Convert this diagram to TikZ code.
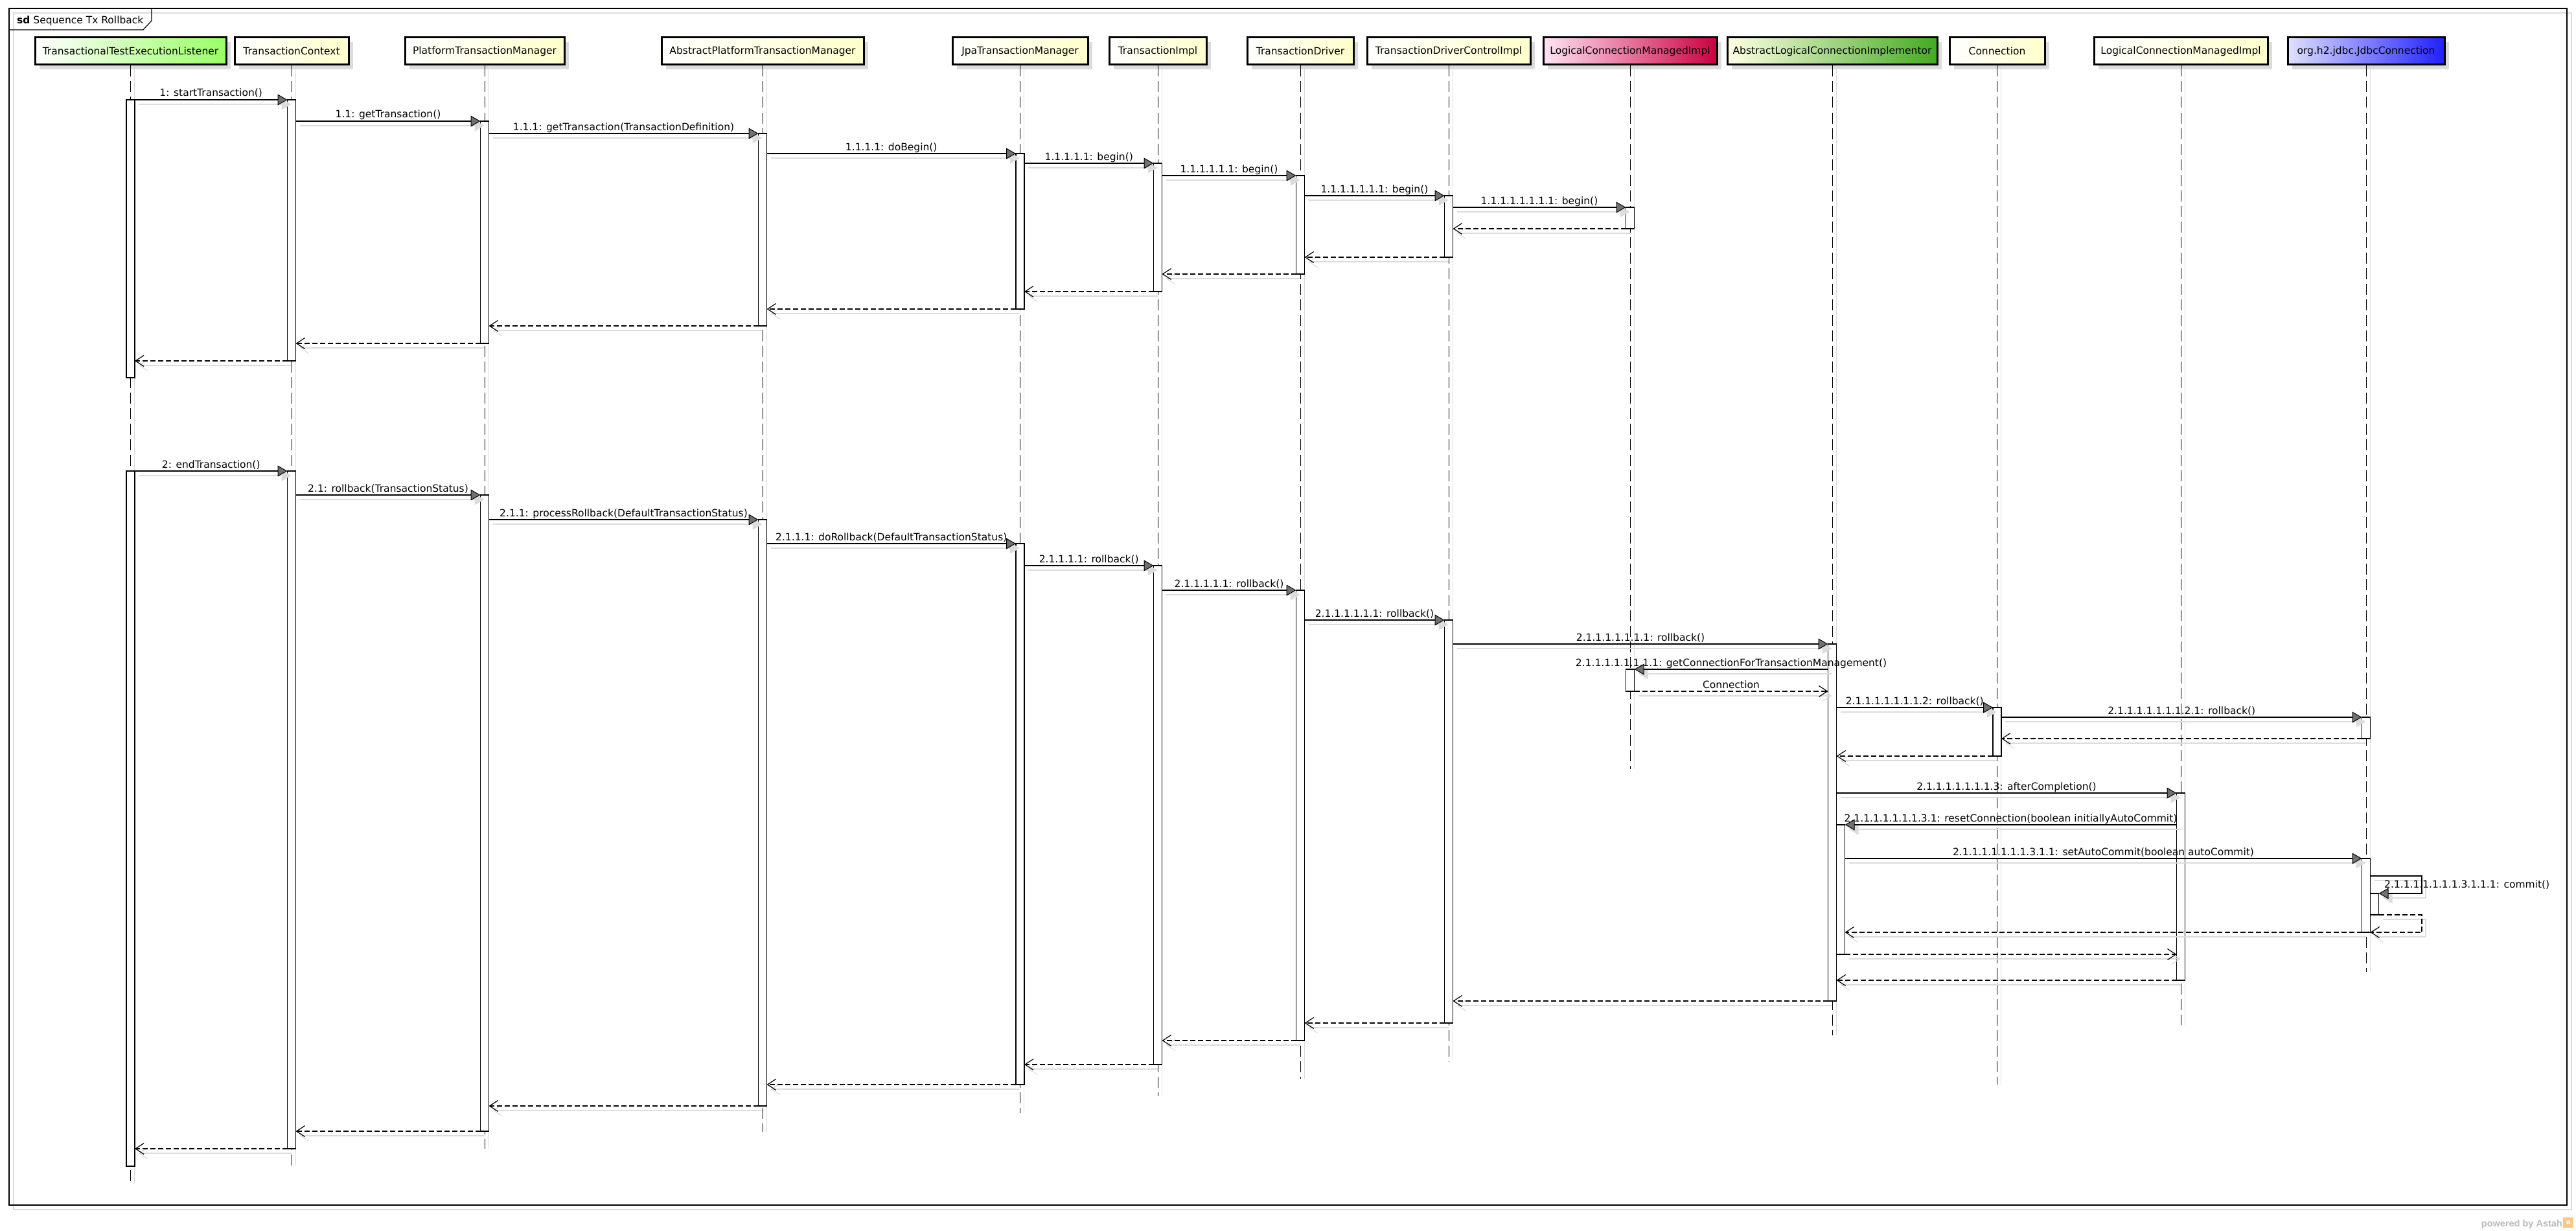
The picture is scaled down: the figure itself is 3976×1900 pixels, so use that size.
\documentclass[tikz,border=0pt]{standalone}
\usepackage{fontspec}
\setmainfont{DejaVu Sans}
\newfontfamily\lsans{Liberation Sans}
\usetikzlibrary{arrows.meta}
\definecolor{shd}{HTML}{DCDCDC}
\definecolor{cGreen}{HTML}{99FF66}
\definecolor{cYel}{HTML}{FFFFCC}
\definecolor{cPinkL}{HTML}{FFE4F4}
\definecolor{cPink}{HTML}{CC0040}
\definecolor{cAlciL}{HTML}{FFFFE4}
\definecolor{cAlci}{HTML}{44AA22}
\definecolor{cBlueL}{HTML}{E0E0FF}
\definecolor{cBlue}{HTML}{2020FF}
\definecolor{headgray}{HTML}{707070}
\tikzset{
  hbox/.style={draw, line width=3pt, minimum height=42pt, inner sep=1pt, outer sep=0pt},
  actbox/.style={draw, fill=white, line width=1.2pt, minimum width=13pt, inner sep=0pt, outer sep=0pt},
  lifeline/.style={line width=1pt, dash pattern=on 17pt off 7pt},
  lifeshadow/.style={draw=shd, line width=1pt},
  call/.style={line width=1.6pt, -{Triangle[length=15pt,width=17pt,fill=headgray,line width=1pt]}},
  callshadow/.style={draw=shd, line width=1.6pt, -{Triangle[length=15pt,width=17pt,fill=shd,line width=1pt]}},
  ret/.style={line width=1.6pt, dash pattern=on 8pt off 4pt, -{Straight Barb[length=13pt,width=17pt,line width=1.2pt]}},
  retshadow/.style={draw=shd, line width=1.6pt, -{Straight Barb[length=13pt,width=17pt,line width=1.2pt]}},
  lbl/.style={anchor=base, yshift=5pt, inner sep=0pt}
}
\newcommand\hdr[6]{%
  \fill[shd] (#2-#3/2+7,65) rectangle (#2+#3/2+7,107);
  \node[hbox, left color=#4, right color=#5, minimum width=#3] (#1) at (#2,79) {#6};
}
\newcommand\lifel[3]{%
  \coordinate (#1top) at (#2,101.5);
  \coordinate (#1bot) at (#2,#3);
  \draw[lifeshadow] ([xshift=6pt]#1top) -- ([xshift=6pt]#1bot);
  \draw[lifeline] (#1top) -- (#1bot);
}
\newcommand\actbar[4]{%
  \node[actbox, minimum height=#4-#3, anchor=north] (#1) at (#2,#3) {};
}
\newcommand\callm[5]{%
  \coordinate (#1s) at (#3,#2);
  \coordinate (#1e) at (#4,#2);
  \draw[callshadow] ([shift={(6,7)}]#1s) -- ([shift={(6,7)}]#1e);
  \draw[call] (#1s) -- node[lbl] (#1l) {#5} (#1e);
}
\newcommand\retm[4]{%
  \coordinate (#1s) at (#3,#2);
  \coordinate (#1e) at (#4,#2);
  \draw[retshadow] ([shift={(6,7)}]#1s) -- ([shift={(6,7)}]#1e);
  \draw[ret] (#1s) -- (#1e);
}
\begin{document}
\begin{tikzpicture}[x=1pt,y=-1pt,font=\fontsize{15.5}{18}\selectfont]
\useasboundingbox (0,0) rectangle (3976,1900);
% frame
\draw[shd, line width=1.5pt] (21,20) rectangle (3969,1867);
\node[draw, line width=1.5pt, minimum width=3948pt, minimum height=1847pt, anchor=north west, inner sep=0pt, outer sep=0pt] (frame) at (14,13) {};
\draw[line width=1.2pt] (14,46) -- (221,46) -- (234,32) -- (234,13);
\node[anchor=base west, inner sep=0pt] (title) at (26,37) {\textbf{sd} Sequence Tx Rollback};
% headers
\hdr{h1}{201.5}{295}{white}{cGreen}{TransactionalTestExecutionListener}
\hdr{h2}{450}{176}{white}{cYel}{TransactionContext}
\hdr{h3}{748}{246}{white}{cYel}{PlatformTransactionManager}
\hdr{h4}{1177}{312}{white}{cYel}{AbstractPlatformTransactionManager}
\hdr{h5}{1574.5}{209}{white}{cYel}{JpaTransactionManager}
\hdr{h6}{1787}{150}{white}{cYel}{TransactionImpl}
\hdr{h7}{2007}{164}{white}{cYel}{TransactionDriver}
\hdr{h8}{2236}{252}{white}{cYel}{TransactionDriverControlImpl}
\hdr{h9}{2516}{268}{cPinkL}{cPink}{LogicalConnectionManagedImpl}
\hdr{h10}{2828}{324}{cAlciL}{cAlci}{AbstractLogicalConnectionImplementor}
\hdr{h11}{3082.5}{147}{white}{cYel}{Connection}
\hdr{h12}{3366}{268}{white}{cYel}{LogicalConnectionManagedImpl}
\hdr{h13}{3652}{242}{cBlueL}{cBlue}{org.h2.jdbc.JdbcConnection}
% lifelines
\lifel{l1}{201.5}{1827}
\lifel{l2}{450}{1800}
\lifel{l3}{748}{1773}
\lifel{l4}{1177}{1747}
\lifel{l5}{1574.5}{1718}
\lifel{l6}{1787}{1692}
\lifel{l7}{2007}{1665}
\lifel{l8}{2236}{1638}
\lifel{l9}{2516}{1187}
\lifel{l10}{2828}{1598}
\lifel{l11}{3082.5}{1674}
\lifel{l12}{3366}{1582}
\lifel{l13}{3652}{1500}
% activation bars, part 1
\actbar{a1}{201.5}{154}{583}
\actbar{a2}{450}{154}{557}
\actbar{a3}{748}{187}{530}
\actbar{a4}{1177}{206}{503}
\actbar{a5}{1574.5}{237}{477}
\actbar{a6}{1787}{252}{450}
\actbar{a7}{2007}{271}{423}
\actbar{a8}{2236}{302}{397}
\actbar{a9}{2516}{320}{353}
% activation bars, part 2
\actbar{b1}{201.5}{727}{1800}
\actbar{b2}{450}{727}{1773}
\actbar{b3}{748}{764}{1746}
\actbar{b4}{1177}{802}{1707}
\actbar{b5}{1574.5}{839}{1674}
\actbar{b6}{1787}{873}{1643}
\actbar{b7}{2007}{911}{1606}
\actbar{b8}{2236}{957}{1579}
\actbar{b10}{2828}{994}{1545}
\actbar{b9}{2516}{1033}{1067}
\actbar{b11}{3082.5}{1092}{1167}
\actbar{b13}{3652}{1107}{1140}
\actbar{b12}{3366}{1224}{1513}
\actbar{b10n}{2841}{1273}{1473}
\actbar{b13b}{3652}{1325}{1439}
\actbar{b13n}{3665}{1379}{1412}
% part 1 messages
\callm{m1}{154}{208}{443.5}{1: startTransaction()}
\callm{m2}{187}{456.5}{741.5}{1.1: getTransaction()}
\callm{m3}{206}{754.5}{1170.5}{1.1.1: getTransaction(TransactionDefinition)}
\callm{m4}{237}{1183.5}{1568}{1.1.1.1: doBegin()}
\callm{m5}{252}{1581}{1780.5}{1.1.1.1.1: begin()}
\callm{m6}{271}{1793.5}{2000.5}{1.1.1.1.1.1: begin()}
\callm{m7}{302}{2013.5}{2229.5}{1.1.1.1.1.1.1: begin()}
\callm{m8}{320}{2242.5}{2509.5}{1.1.1.1.1.1.1.1: begin()}
\retm{r8}{353}{2509.5}{2242.5}
\retm{r7}{397}{2229.5}{2013.5}
\retm{r6}{423}{2000.5}{1793.5}
\retm{r5}{450}{1780.5}{1581}
\retm{r4}{477}{1568}{1183.5}
\retm{r3}{503}{1170.5}{754.5}
\retm{r2}{530}{741.5}{456.5}
\retm{r1}{557}{443.5}{208}
% part 2 messages
\callm{n1}{727}{208}{443.5}{2: endTransaction()}
\callm{n2}{764}{456.5}{741.5}{2.1: rollback(TransactionStatus)}
\callm{n3}{802}{754.5}{1170.5}{2.1.1: processRollback(DefaultTransactionStatus)}
\callm{n4}{839}{1183.5}{1568}{2.1.1.1: doRollback(DefaultTransactionStatus)}
\callm{n5}{873}{1581}{1780.5}{2.1.1.1.1: rollback()}
\callm{n6}{911}{1793.5}{2000.5}{2.1.1.1.1.1: rollback()}
\callm{n7}{957}{2013.5}{2229.5}{2.1.1.1.1.1.1: rollback()}
\callm{n8}{994}{2242.5}{2821.5}{2.1.1.1.1.1.1.1: rollback()}
\callm{n9}{1033}{2821.5}{2522.5}{2.1.1.1.1.1.1.1.1: getConnectionForTransactionManagement()}
\retm{q9}{1067}{2522.5}{2821.5}
\node[lbl] (q9l) at (2672,1067) {Connection};
\callm{n10}{1092}{2834.5}{3076}{2.1.1.1.1.1.1.1.2: rollback()}
\callm{n11}{1107}{3089}{3645.5}{2.1.1.1.1.1.1.1.2.1: rollback()}
\retm{q11}{1140}{3645.5}{3089}
\retm{q10}{1167}{3076}{2834.5}
\callm{n12}{1224}{2834.5}{3359.5}{2.1.1.1.1.1.1.1.3: afterCompletion()}
\callm{n13}{1273}{3359.5}{2847.5}{2.1.1.1.1.1.1.1.3.1: resetConnection(boolean initiallyAutoCommit)}
\callm{n14}{1325}{2847.5}{3645.5}{2.1.1.1.1.1.1.1.3.1.1: setAutoCommit(boolean autoCommit)}
% self call commit
\coordinate (s1a) at (3658.5,1352);
\coordinate (s1b) at (3738,1352);
\coordinate (s1c) at (3738,1379);
\coordinate (s1d) at (3671.5,1379);
\draw[callshadow] ([shift={(6,7)}]s1a) -- ([shift={(6,7)}]s1b) -- ([shift={(6,7)}]s1c) -- ([shift={(6,7)}]s1d);
\draw[call] (s1a) -- (s1b) -- (s1c) -- (s1d);
\node[anchor=west, inner sep=0pt] (s1l) at (3680,1366) {2.1.1.1.1.1.1.1.3.1.1.1: commit()};
\coordinate (s2a) at (3671.5,1412);
\coordinate (s2b) at (3738,1412);
\coordinate (s2c) at (3738,1439);
\coordinate (s2d) at (3658.5,1439);
\draw[retshadow] ([shift={(6,7)}]s2a) -- ([shift={(6,7)}]s2b) -- ([shift={(6,7)}]s2c) -- ([shift={(6,7)}]s2d);
\draw[ret] (s2a) -- (s2b) -- (s2c) -- (s2d);
\retm{q14}{1439}{3645.5}{2847.5}
\retm{q13}{1473}{2847.5}{3359.5}
\retm{q12}{1513}{3359.5}{2834.5}
\retm{q8}{1545}{2821.5}{2242.5}
\retm{q7}{1579}{2229.5}{2013.5}
\retm{q6}{1606}{2000.5}{1793.5}
\retm{q5}{1643}{1780.5}{1581}
\retm{q4}{1674}{1568}{1183.5}
\retm{q3}{1707}{1170.5}{754.5}
\retm{q2}{1746}{741.5}{456.5}
\retm{q1}{1773}{443.5}{208}
% powered by
\node[anchor=base east, inner sep=0pt, text=black!27, font=\lsans\bfseries\fontsize{14.5}{16}\selectfont] (pow) at (3955,1893) {powered by Astah};
\node[fill=orange!45, minimum size=16pt, inner sep=0pt, anchor=west, text=white, font=\lsans\bfseries\fontsize{11}{12}\selectfont] (logo) at (3956,1887) {a};
\end{tikzpicture}
\end{document}
